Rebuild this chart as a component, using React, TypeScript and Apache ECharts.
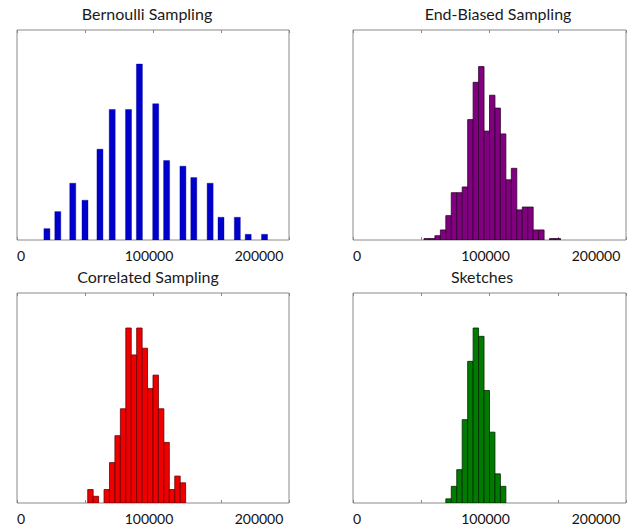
import React, { useEffect, useRef } from 'react';
import * as echarts from 'echarts';

// ---- data ----
const panelTitles = ['Bernoulli Sampling', 'End-Biased Sampling', 'Correlated Sampling', 'Sketches'];
const xTickLabels = ['0', '100000', '200000'];

const bernoulliCenters = [22000, 30000, 41000, 50000, 61000, 70000, 82000, 90000, 102000, 110000, 122000, 130000, 142000, 150000, 162000, 170000, 182000];
const bernoulliCounts = [2, 5, 10, 7, 16, 23, 23, 31, 24, 14, 13, 11, 10, 4, 4, 1, 1];
const bernoulliBarWidth = 4400;

const binWidth = 4000;
const endBiasedStart = 52000;
const endBiasedCounts = [1, 1, 3, 7, 17, 33, 33, 37, 84, 110, 121, 76, 101, 92, 74, 42, 50, 21, 23, 23, 7, 7, 0, 1, 1];

const correlatedStart = 52000;
const correlatedCounts = [2, 1, 0, 2, 6, 10, 14, 26, 22, 26, 23, 17, 19, 14, 9, 2, 4, 3];

const sketchesStart = 68000;
const sketchesCounts = [1, 4, 8, 20, 34, 42, 40, 27, 17, 7, 4];

const yMaxes = [37, 146.5, 31.2, 50.4];

// ---- styles ----
const FONT = 'Lato, "Open Sans", sans-serif';
const grids = [
  { left: 17, top: 30, width: 272, height: 210 },
  { left: 353, top: 30, width: 273, height: 210 },
  { left: 17, top: 293, width: 272, height: 210 },
  { left: 353, top: 293, width: 273, height: 210 },
];
const titlePos = [
  { x: 147, y: 5 },
  { x: 498, y: 5 },
  { x: 148, y: 268 },
  { x: 482, y: 268 },
];
const fills = ['#0000cc', '#800080', '#ee0000', '#007a00'];
const strokes = ['#00008a', '#2e002e', '#6a0000', '#002a00'];

function binned(start: number, counts: number[]) {
  return counts.map((c, i) => [start + i * binWidth, start + (i + 1) * binWidth, c]);
}
function centered(centers: number[], counts: number[]) {
  return centers.map((c, i) => [c - bernoulliBarWidth / 2, c + bernoulliBarWidth / 2, counts[i]]);
}

const panelData = [
  centered(bernoulliCenters, bernoulliCounts),
  binned(endBiasedStart, endBiasedCounts),
  binned(correlatedStart, correlatedCounts),
  binned(sketchesStart, sketchesCounts),
];

export default function App() {
  const ref = useRef<HTMLDivElement>(null);
  useEffect(() => {
    if (!ref.current) return;
    const chart = echarts.init(ref.current, undefined, { renderer: 'svg' });
    const labelRich = {
      z: { fontFamily: FONT, fontSize: 14, color: '#111', padding: [0, 0, 0, 8] },
      m: { fontFamily: FONT, fontSize: 14, color: '#111', padding: [0, 8, 0, 0] },
      e: { fontFamily: FONT, fontSize: 14, color: '#111', padding: [0, 60, 0, 0] },
    };
    const fmt = (v: number) => {
      if (v === 0) return '{z|' + xTickLabels[0] + '}';
      if (v === 100000) return '{m|' + xTickLabels[1] + '}';
      if (v === 200000) return '{e|' + xTickLabels[2] + '}';
      return '';
    };
    const xAxes: any[] = [];
    const yAxes: any[] = [];
    const series: any[] = [];
    for (let i = 0; i < 4; i++) {
      xAxes.push({
        type: 'value', gridIndex: i, position: 'bottom', min: 0, max: 200000, interval: 50000,
        axisLine: { show: false },
        axisTick: { show: true, inside: true, length: 3, lineStyle: { color: '#8a8a8a' } },
        splitLine: { show: false },
        axisLabel: { show: true, align: 'center', margin: 8, formatter: fmt, rich: labelRich, fontFamily: FONT, fontSize: 14, color: '#111', showMinLabel: true, showMaxLabel: true, hideOverlap: false },
      });
      xAxes.push({
        type: 'value', gridIndex: i, position: 'top', min: 0, max: 200000, interval: 50000,
        axisLine: { show: false },
        axisTick: { show: true, inside: true, length: 3, lineStyle: { color: '#8a8a8a' } },
        splitLine: { show: false },
        axisLabel: { show: false },
      });
      yAxes.push({
        type: 'value', gridIndex: i, min: 0, max: yMaxes[i], show: false, splitLine: { show: false },
      });
      const fill = fills[i];
      const stroke = strokes[i];
      const lw = i === 0 ? 0.4 : 0.8;
      series.push({
        type: 'custom', xAxisIndex: i * 2, yAxisIndex: i, clip: true,
        data: panelData[i],
        renderItem: (params: any, api: any) => {
          const c = api.value(2);
          if (!c) return null;
          const p0 = api.coord([api.value(0), c]);
          const p1 = api.coord([api.value(1), 0]);
          return {
            type: 'rect',
            shape: { x: p0[0], y: p0[1], width: p1[0] - p0[0], height: p1[1] - p0[1] },
            style: { fill, stroke, lineWidth: lw },
          };
        },
      });
    }
    chart.setOption({
      animation: false,
      backgroundColor: '#ffffff',
      title: panelTitles.map((t, i) => ({
        text: t, left: titlePos[i].x, top: titlePos[i].y, textAlign: 'center', padding: 0,
        textStyle: { fontFamily: FONT, fontSize: 16, fontWeight: 'normal', color: '#1a1a1a' },
      })),
      grid: grids.map((g) => ({ ...g, show: true, borderColor: '#8a8a8a', borderWidth: 1, backgroundColor: 'transparent' })),
      xAxis: xAxes,
      yAxis: yAxes,
      series,
    });
    return () => chart.dispose();
  }, []);
  return <div ref={ref} style={{ position: 'absolute', left: 0, top: 0, width: 641, height: 527, background: '#fff' }} />;
}
